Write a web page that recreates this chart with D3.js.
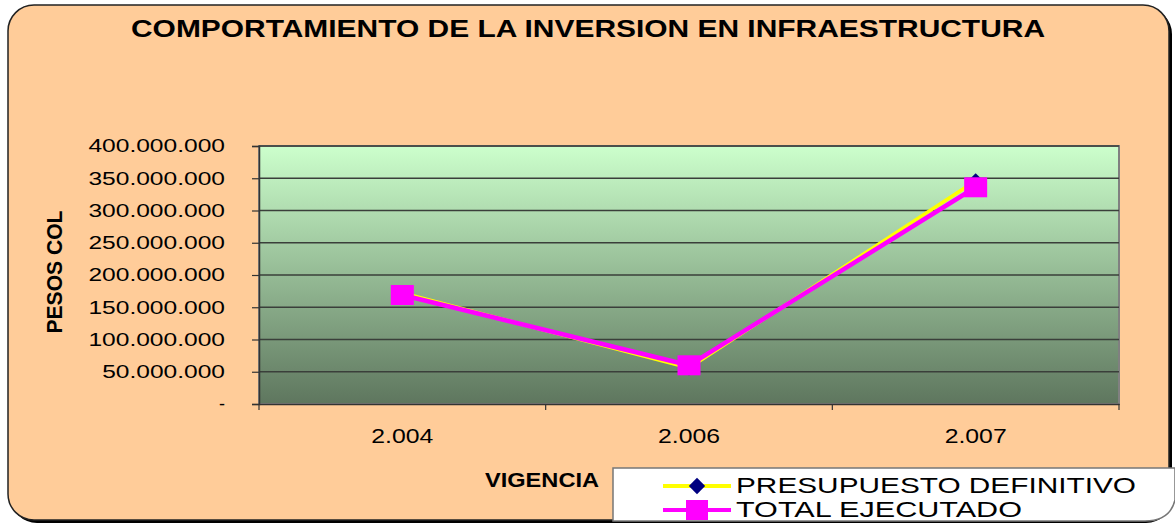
<!DOCTYPE html>
<html lang="es">
<head>
<meta charset="utf-8">
<title>inversion infraestructura</title>
<script src="https://d3js.org/d3.v7.min.js"></script>
<style>
  body{ margin:0; background:#fff; }
  text{ font-family:"Liberation Sans", Arial, sans-serif; }
</style>
</head>
<body>
<div id="chart"></div>
<script>
// datos
let years = ["2.004", "2.006", "2.007"];
let presupuesto = [172000000, 56000000, 346000000];
let ejecutado = [169000000, 60000000, 336000000];
let yTicks = [0, 50000000, 100000000, 150000000, 200000000, 250000000, 300000000, 350000000, 400000000];

let W = 1175, H = 525;
let svg = d3.select("#chart").append("svg").attr("width", W).attr("height", H);

// fondo redondeado con sombra
svg.append("rect").attr("x", 11).attr("y", 8).attr("width", 1161).attr("height", 515)
  .attr("rx", 26).attr("fill", "#000");
svg.append("rect").attr("x", 8).attr("y", 5).attr("width", 1161).attr("height", 515)
  .attr("rx", 26).attr("fill", "#FFCC99").attr("stroke", "#222").attr("stroke-width", 1.5);

// titulo
svg.append("text").attr("x", 588).attr("y", 37).attr("text-anchor", "middle")
  .style("font-size", "24px").attr("font-weight", "bold")
  .attr("textLength", 914).attr("lengthAdjust", "spacingAndGlyphs")
  .text("COMPORTAMIENTO DE LA INVERSION EN INFRAESTRUCTURA");

let pL = 259, pR = 1119, pT = 146, pB = 404;
let x = d3.scaleBand().domain(years).range([pL, pR]);
let y = d3.scaleLinear().domain([0, 400000000]).range([pB, pT]);

// gradiente del area
let grad = svg.append("defs").append("linearGradient").attr("id", "g1")
  .attr("x1", 0).attr("y1", 0).attr("x2", 0).attr("y2", 1);
grad.append("stop").attr("offset", "0%").attr("stop-color", "#CCFFCC");
grad.append("stop").attr("offset", "100%").attr("stop-color", "#5E765E");

svg.append("rect").attr("x", pL).attr("y", pT).attr("width", pR - pL).attr("height", pB - pT)
  .attr("fill", "url(#g1)").attr("stroke", "#808080").attr("stroke-width", 2);

// lineas de cuadricula
svg.selectAll(".grid").data(yTicks.slice(1)).enter().append("line")
  .attr("x1", pL).attr("x2", pR)
  .attr("y1", d => y(d)).attr("y2", d => y(d))
  .attr("stroke", "#3a3f3a").attr("stroke-width", 1.5);

// eje y
let fmt = v => v === 0 ? "-" : d3.format(",")(v).replace(/,/g, ".");
let labW = s => { let dg = s.replace(/\./g, "").length, dt = s.length - dg; return dg * 13.8 + dt * 6.2; };
let yAxis = svg.append("g").attr("transform", "translate(" + pL + ",0)")
  .call(d3.axisLeft(y).tickValues(yTicks).tickFormat(fmt).tickSize(7).tickPadding(27));
yAxis.select(".domain").attr("stroke", "#333").attr("stroke-width", 1.5);
yAxis.selectAll("line").attr("stroke", "#333").attr("stroke-width", 1.2);
yAxis.selectAll("text").style("font-size", "18px").attr("fill", "#000")
  .style("font-family", "Liberation Sans, Arial, sans-serif")
  .each(function(d){
    let s = fmt(d);
    if (s !== "-") d3.select(this).attr("textLength", labW(s)).attr("lengthAdjust", "spacingAndGlyphs");
  });

// eje x
let xAxis = svg.append("g").attr("transform", "translate(0," + pB + ")")
  .call(d3.axisBottom(x).tickSize(0).tickPadding(24));
xAxis.select(".domain").attr("stroke", "#333").attr("stroke-width", 1.5);
xAxis.selectAll("text").style("font-size", "21px").attr("fill", "#000")
  .style("font-family", "Liberation Sans, Arial, sans-serif")
  .attr("textLength", 62).attr("lengthAdjust", "spacingAndGlyphs");
let bounds = years.map(d => x(d)).concat([pR]);
svg.selectAll(".xt").data(bounds).enter().append("line")
  .attr("x1", d => d).attr("x2", d => d).attr("y1", pB).attr("y2", pB + 6)
  .attr("stroke", "#333").attr("stroke-width", 1.2);

// titulos de ejes
svg.append("text").attr("transform", "translate(62,272) rotate(-90)")
  .attr("text-anchor", "middle").style("font-size", "22px").attr("font-weight", "bold")
  .attr("textLength", 123).attr("lengthAdjust", "spacingAndGlyphs").text("PESOS COL");
svg.append("text").attr("x", 542).attr("y", 487).attr("text-anchor", "middle")
  .style("font-size", "21px").attr("font-weight", "bold")
  .attr("textLength", 114).attr("lengthAdjust", "spacingAndGlyphs").text("VIGENCIA");

// series
let cx = d => x(d) + x.bandwidth() / 2;
let line1 = d3.line().x((d, i) => cx(years[i])).y(d => y(d));

svg.append("path").datum(presupuesto).attr("d", line1)
  .attr("fill", "none").attr("stroke", "#FFFF00").attr("stroke-width", 3.5);
svg.selectAll(".dia").data(presupuesto).enter().append("path")
  .attr("d", d3.symbol().type(d3.symbolDiamond2).size(150))
  .attr("transform", (d, i) => "translate(" + cx(years[i]) + "," + y(d) + ")")
  .attr("fill", "#000080");

svg.append("path").datum(ejecutado).attr("d", line1)
  .attr("fill", "none").attr("stroke", "#FF00FF").attr("stroke-width", 4.5);
svg.selectAll(".sq").data(ejecutado).enter().append("rect")
  .attr("x", (d, i) => cx(years[i]) - 11.5).attr("y", d => y(d) - 10)
  .attr("width", 23).attr("height", 20).attr("fill", "#FF00FF");

// leyenda
svg.append("path")
  .attr("d", "M613,521 L613,468 L1175,468 L1175,500 Q1170,521 1145,521 Z")
  .attr("fill", "#fff").attr("stroke", "#777").attr("stroke-width", 1.5);
svg.append("line").attr("x1", 663).attr("x2", 731).attr("y1", 486).attr("y2", 486)
  .attr("stroke", "#FFFF00").attr("stroke-width", 4);
svg.append("path").attr("d", d3.symbol().type(d3.symbolDiamond2).size(170))
  .attr("transform", "translate(697,486)").attr("fill", "#000080");
svg.append("line").attr("x1", 663).attr("x2", 731).attr("y1", 510).attr("y2", 510)
  .attr("stroke", "#FF00FF").attr("stroke-width", 4);
svg.append("rect").attr("x", 686).attr("y", 500).attr("width", 22).attr("height", 20).attr("fill", "#FF00FF");
svg.append("text").attr("x", 736).attr("y", 493).style("font-size", "22px")
  .attr("textLength", 400).attr("lengthAdjust", "spacingAndGlyphs").text("PRESUPUESTO DEFINITIVO");
svg.append("text").attr("x", 736).attr("y", 517).style("font-size", "22px")
  .attr("textLength", 286).attr("lengthAdjust", "spacingAndGlyphs").text("TOTAL EJECUTADO");
</script>
</body>
</html>
